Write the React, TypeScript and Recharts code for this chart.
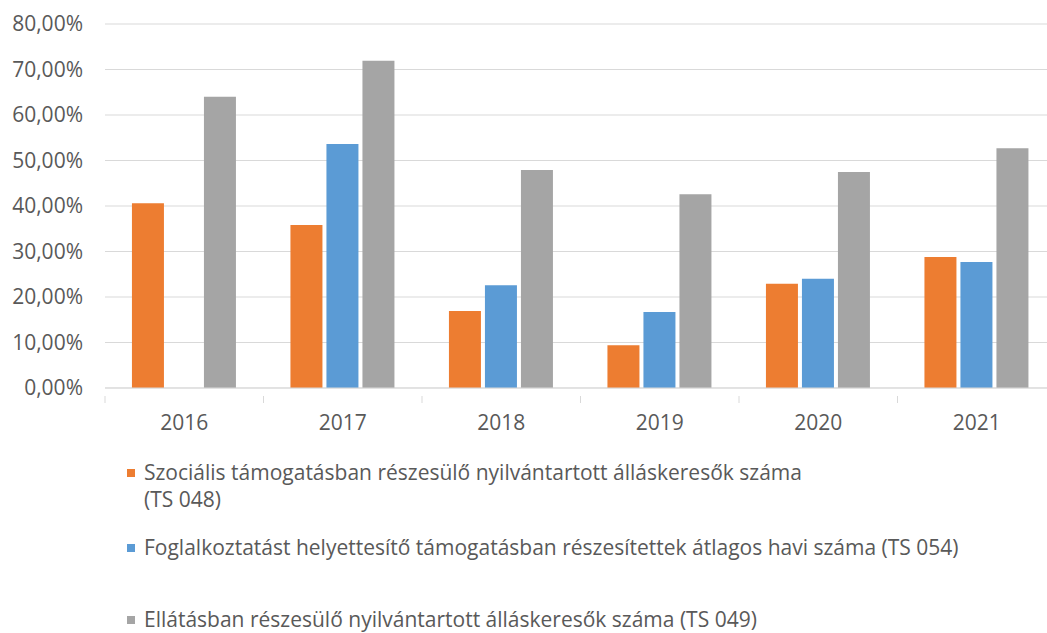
import React from 'react';
import { BarChart, Bar, XAxis, YAxis, CartesianGrid } from 'recharts';

const years = ['2016', '2017', '2018', '2019', '2020', '2021'];
const szocialis = [40.6, 35.8, 16.9, 9.4, 22.9, 28.8];
const foglalkoztatas = [null, 53.6, 22.6, 16.7, 24.0, 27.7];
const ellatas = [64.0, 71.9, 47.9, 42.6, 47.5, 52.7];
const yTicks = [0, 10, 20, 30, 40, 50, 60, 70, 80];

const seriesNames = [
  'Szociális támogatásban részesülő nyilvántartott álláskeresők száma\n(TS 048)',
  'Foglalkoztatást helyettesítő támogatásban részesítettek átlagos havi száma (TS 054)',
  'Ellátásban részesülő nyilvántartott álláskeresők száma (TS 049)',
];
const colors = ['#ED7D31', '#5B9BD5', '#A5A5A5'];

const data = years.map((year, i) => ({
  year,
  szocialis: szocialis[i],
  foglalkoztatas: foglalkoztatas[i],
  ellatas: ellatas[i],
}));

const FONT = '"Open Sans", sans-serif';
const TEXT = '#595959';
const FS = 21;

const formatPct = (v: number) => `${v.toFixed(2).replace('.', ',')}%`;

const XTick = (props: any) => {
  const { x, y, payload, index } = props;
  const half = payload?.offset ?? 0;
  return (
    <g>
      <line x1={x - half} y1={y} x2={x - half} y2={y + 7} stroke="#d9d9d9" />
      {index === years.length - 1 && (
        <line x1={x + half} y1={y} x2={x + half} y2={y + 7} stroke="#d9d9d9" />
      )}
      <text x={x} y={y + 28} textAnchor="middle" dominantBaseline="middle" fill={TEXT} fontSize={FS} fontFamily={FONT}>
        {payload.value}
      </text>
    </g>
  );
};

export default function App() {
  const itemGaps = [0, 21, 45];
  return (
    <div style={{ position: 'absolute', left: 0, top: 0, width: 1047, height: 633, overflow: 'hidden', background: '#fff' }}>
      <BarChart
        width={1047}
        height={633}
        data={data}
        margin={{ top: 24, right: -9, left: 1, bottom: 205 }}
        barCategoryGap="17%"
        barGap={4}
      >
        <CartesianGrid vertical={false} stroke="#d9d9d9" />
        <XAxis
          dataKey="year"
          height={40}
          tickLine={false}
          axisLine={{ stroke: '#d9d9d9' }}
          tick={<XTick />}
          interval={0}
        />
        <YAxis
          width={104}
          domain={[0, 80]}
          ticks={yTicks}
          tickFormatter={formatPct}
          axisLine={false}
          tickLine={false}
          tickSize={0}
          tickMargin={22}
          tick={{ fill: TEXT, fontSize: FS, fontFamily: FONT }}
        />
        <Bar dataKey="szocialis" fill={colors[0]} isAnimationActive={false} />
        <Bar dataKey="foglalkoztatas" fill={colors[1]} isAnimationActive={false} />
        <Bar dataKey="ellatas" fill={colors[2]} isAnimationActive={false} />
      </BarChart>
      <div style={{ position: 'absolute', left: 127, top: 459, fontFamily: FONT, fontSize: FS, color: TEXT, lineHeight: '27px' }}>
        {seriesNames.map((name, i) => (
          <div key={name} style={{ display: 'flex', alignItems: 'flex-start', marginTop: itemGaps[i] }}>
            <span style={{ display: 'inline-block', width: 8, height: 8, background: colors[i], marginTop: 10, marginRight: 9, flex: 'none' }} />
            <span style={{ whiteSpace: 'pre' }}>{name}</span>
          </div>
        ))}
      </div>
    </div>
  );
}
